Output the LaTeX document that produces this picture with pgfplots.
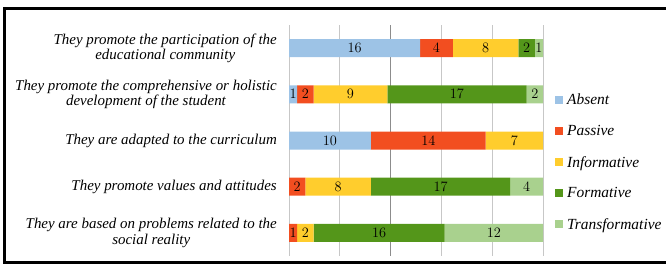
\documentclass[border=0pt]{standalone}
\usepackage{pgfplots}
\pgfplotsset{compat=1.18}
\usepackage{pgfplotstable}
\usepackage{fontspec}
\setmainfont{Liberation Serif}
\definecolor{absent}{RGB}{157,195,230}
\definecolor{passive}{RGB}{242,78,32}
\definecolor{informative}{RGB}{255,205,45}
\definecolor{formative}{RGB}{84,150,26}
\definecolor{transformative}{RGB}{169,209,142}
\pgfplotstableread{
y a b c d e
1 16 4 8 2 1
2 1 2 9 17 2
3 10 14 7 0 0
4 0 2 8 17 4
5 0 1 2 16 12
}\data
\pgfplotsset{
  sq/.style={legend image code/.code={\fill[##1] (0bp,-4bp) rectangle (8bp,4bp); \path (11bp,0bp);}},
  lbl/.style={point meta=\thisrow{#1}},
}
\begin{document}
\begin{tikzpicture}
\useasboundingbox (0,0) rectangle (666bp,267bp);
\draw[line width=3bp] (672bp,258.5bp) -- (4bp,258.5bp) -- (4bp,4bp) -- (672bp,4bp);
\begin{axis}[
  at={(289bp,11bp)}, anchor=south west,
  scale only axis, width=254bp, height=231bp,
  xbar stacked, bar width=18bp,
  xmin=0, xmax=31, ymin=0.5, ymax=5.5,
  y dir=reverse,
  ytick={1,2,3,4,5},
  yticklabels={
    {They promote the participation of the\\educational community},
    {They promote the comprehensive or holistic\\development of the student},
    {They are adapted to the curriculum},
    {They promote values and attitudes},
    {They are based on problems related to the\\social reality}},
  yticklabel style={align=center, inner sep=0pt, xshift=-12bp,
    font=\fontsize{15}{15.5}\selectfont\itshape},
  xtick={0,6.2,18.6,24.8,31}, xticklabels={},
  xmajorgrids, grid style={draw=black!22, line width=0.8bp},
  extra x ticks={12.4}, extra x tick labels={},
  extra x tick style={grid style={draw=black!45, line width=1.3bp}},
  axis line style={draw=none},
  major tick length=0pt,
  nodes near coords={\pgfmathfloatifflags{\pgfplotspointmeta}{0}{}{\pgfmathprintnumber{\pgfplotspointmeta}}},
  every node near coord/.append style={anchor=center,
    font=\fontsize{14.5}{14.5}\selectfont, text=black},
  legend style={at={(1.047,0.405)}, anchor=west, draw=none, fill=none,
    font=\fontsize{15.5}{15.5}\selectfont\itshape, row sep=17bp,
    inner sep=0pt, nodes={inner sep=1bp}},
  legend cell align=left,
]
\addplot[fill=absent, draw=none, sq, lbl=a] table[x=a,y=y]{\data};
\addplot[fill=passive, draw=none, sq, lbl=b] table[x=b,y=y]{\data};
\addplot[fill=informative, draw=none, sq, lbl=c] table[x=c,y=y]{\data};
\addplot[fill=formative, draw=none, sq, lbl=d] table[x=d,y=y]{\data};
\addplot[fill=transformative, draw=none, sq, lbl=e] table[x=e,y=y]{\data};
\legend{Absent,Passive,Informative,Formative,Transformative}
\end{axis}
\end{tikzpicture}
\end{document}
